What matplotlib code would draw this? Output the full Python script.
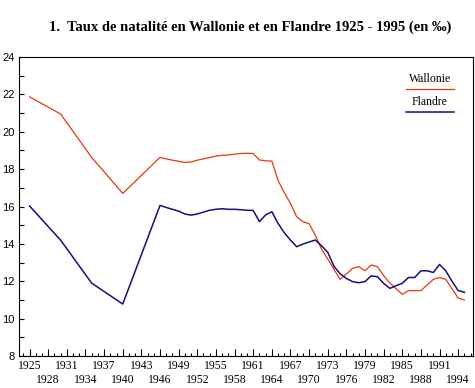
import matplotlib
matplotlib.use("Agg")
import matplotlib.pyplot as plt
from matplotlib.ticker import MultipleLocator
from matplotlib.transforms import ScaledTranslation

years = [1925, 1930, 1935, 1940] + list(range(1946, 1996))

wallonie = [21.87, 20.95, 18.63, 16.7,
            18.63, 18.55, 18.48, 18.42, 18.36, 18.38, 18.48, 18.55, 18.62, 18.7,
            18.74, 18.76, 18.8, 18.84, 18.85, 18.84, 18.49, 18.45, 18.43, 17.4,
            16.74, 16.17, 15.45, 15.19, 15.08, 14.46, 13.72, 13.19, 12.64, 12.1,
            12.39, 12.69, 12.78, 12.56, 12.87, 12.78, 12.3, 11.9, 11.6, 11.3,
            11.5, 11.5, 11.5, 11.8, 12.1, 12.2, 12.1, 11.6, 11.1, 11.0]

flandre = [16.03, 14.2, 11.9, 10.78,
           16.06, 15.95, 15.85, 15.75, 15.6, 15.54, 15.6, 15.7, 15.8, 15.85,
           15.88, 15.85, 15.85, 15.83, 15.8, 15.79, 15.19, 15.55, 15.72, 15.1,
           14.6, 14.2, 13.85, 13.99, 14.1, 14.21, 13.9, 13.55, 12.8, 12.4,
           12.15, 11.98, 11.92, 11.98, 12.29, 12.24, 11.89, 11.62, 11.76, 11.89,
           12.2, 12.2, 12.56, 12.56, 12.47, 12.9, 12.56, 12.0, 11.5, 11.41]

tick_years = list(range(1925, 1995, 3))

rouge = "#e8380f"
bleu = "#16107f"

fig = plt.figure(figsize=(4.75, 3.88), dpi=100)
ax = fig.add_axes([0.040, 0.0825, 0.956, 0.7705])

ax.plot(years, wallonie, color=rouge, lw=0.9)
ax.plot(years, flandre, color=bleu, lw=1.1)

ax.set_xlim(1923.3, 1996.4)
ax.set_ylim(8, 24)

ax.xaxis.set_minor_locator(MultipleLocator(1))
ax.yaxis.set_major_locator(MultipleLocator(2))
ax.yaxis.set_minor_locator(MultipleLocator(1))

ax.tick_params(axis="x", which="major", direction="in", length=5, width=0.8, pad=3)
ax.tick_params(axis="x", which="minor", direction="in", length=2.5, width=0.8)
ax.tick_params(axis="y", which="both", direction="in", length=3.5, width=0.8, pad=3)
for s in ax.spines.values():
    s.set_linewidth(0.8)

ax.set_xticks(tick_years)
ax.set_xticklabels([str(a) for a in tick_years], family="Liberation Serif", fontsize=8.5)
# une annee sur deux sur une seconde ligne
decalage = ScaledTranslation(0, -14 / 100, fig.dpi_scale_trans)
for i, lab in enumerate(ax.get_xticklabels()):
    if i % 2 == 1:
        lab.set_transform(lab.get_transform() + decalage)
for lab in ax.get_yticklabels():
    lab.set_family("Liberation Sans")
    lab.set_fontsize(8)

# legende sans cadre, texte au-dessus du trait
ax.text(0.905, 0.906, "Wallonie", transform=ax.transAxes, ha="center", va="bottom",
        family="Liberation Serif", fontsize=8.5)
ax.plot([0.852, 0.958], [0.893, 0.893], transform=ax.transAxes, color=rouge, lw=0.9)
ax.text(0.905, 0.829, "Flandre", transform=ax.transAxes, ha="center", va="bottom",
        family="Liberation Serif", fontsize=8.5)
ax.plot([0.852, 0.958], [0.816, 0.816], transform=ax.transAxes, color=bleu, lw=1.1)

fig.text(0.527, 0.93, "1.  Taux de natalité en Wallonie et en Flandre 1925 - 1995 (en ‰)",
         ha="center", va="center", family="Liberation Serif", fontweight="bold", fontsize=10.5)

fig.savefig("out.png", dpi=100)
